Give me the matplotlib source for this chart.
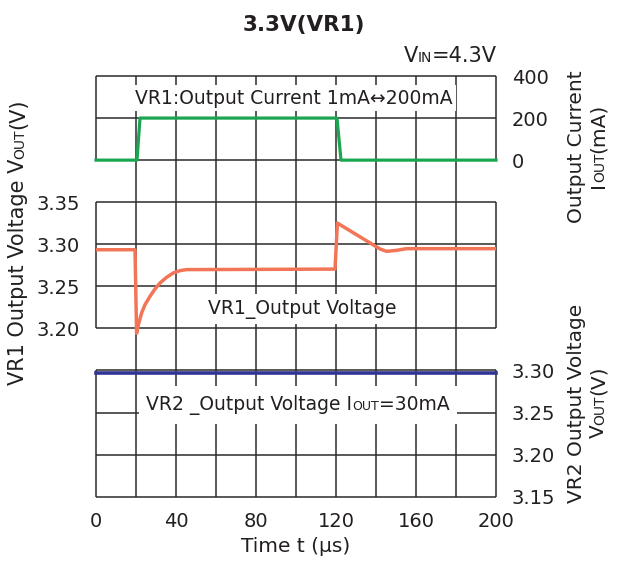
import matplotlib
matplotlib.use('Agg')
import matplotlib.pyplot as plt
from matplotlib.patches import Rectangle
from matplotlib.transforms import IdentityTransform, Bbox

# load current step (mA)
t_cur = [0, 20.5, 22, 120.5, 122.5, 200]
i_cur = [0, 0, 200, 200, 0, 0]

# VR1 output voltage (V)
t_vr1 = [0, 19.5, 20.3, 21.2, 22.8, 24.5, 27, 29.5, 32, 35.3, 38.7, 42, 45.3, 60,
         119.5, 120.7, 142, 145.3, 150.3, 155.3, 200]
v_vr1 = [3.2935, 3.2935, 3.1942, 3.2044, 3.2183, 3.2282, 3.2381, 3.2469, 3.2540, 3.2607,
         3.2660, 3.2687, 3.2699, 3.2700, 3.2705, 3.3252, 3.2944, 3.2916, 3.2928, 3.2948, 3.2948]

# VR2 output voltage (V)
t_vr2 = [0, 200]
v_vr2 = [3.297, 3.297]

x_ticks = [0, 40, 80, 120, 160, 200]
x_grid = [20, 40, 60, 80, 100, 120, 140, 160, 180]
cur_ticks = [0, 200, 400]
vr1_ticks = [3.20, 3.25, 3.30, 3.35]
vr2_ticks = [3.15, 3.20, 3.25, 3.30]

ink = '#231f20'
grid_c = '#2b2b2b'
green = '#1aa650'
red = '#f37558'
blue = '#2e3592'

fig = plt.figure(figsize=(6.25, 5.68), dpi=100)
ax = fig.add_axes([96 / 625, 71.3 / 568, 400 / 625, 420.7 / 568])
ax.set_xlim(0, 200)
ax.set_ylim(3.00, 3.50)
ax_i = ax.twinx()
ax_i.set_ylim(-1600, 400)
ax_v2 = ax.twinx()
ax_v2.set_ylim(3.15, 3.65)

for a in (ax, ax_i, ax_v2):
    for s in a.spines.values():
        s.set_visible(False)
    a.tick_params(length=0, labelsize=14, labelcolor=ink)

ax.set_xticks(x_ticks)
ax.tick_params(axis='x', pad=11)
ax.set_yticks(vr1_ticks, ['%.2f' % v for v in vr1_ticks])
ax.tick_params(axis='y', pad=11.5)
ax_i.set_yticks(cur_ticks, [str(v) for v in cur_ticks])
ax_i.tick_params(axis='y', pad=11.5)
ax_v2.set_yticks(vr2_ticks, ['%.2f' % v for v in vr2_ticks])
ax_v2.tick_params(axis='y', pad=11.5)
ax.set_xlabel('Time t (\u00b5s)', fontsize=14.5, color=ink, labelpad=4)

# grid: interior verticals full height, borders and horizontals per section
ax.vlines(x_grid, *ax.get_ylim(), colors=grid_c, lw=1.1, zorder=1)
for a, ticks in ((ax_i, cur_ticks), (ax, vr1_ticks), (ax_v2, vr2_ticks)):
    a.hlines(ticks, 0, 200, colors=grid_c, lw=1.1, clip_on=False, zorder=1)
    a.vlines([0, 200], min(ticks), max(ticks), colors=grid_c, lw=1.1, clip_on=False, zorder=1)

ax_i.plot(t_cur, i_cur, color=green, lw=2.3, zorder=4, clip_on=False)
ax.plot(t_vr1, v_vr1, color=red, lw=2.5, zorder=4)
ax_v2.plot(t_vr2, v_vr2, color=blue, lw=2.6, zorder=4, clip_on=False)

ax_i.text(99, 295, 'VR1:Output Current 1mA\u2194200mA', fontsize=13.5, color=ink,
          ha='center', va='center', zorder=5,
          bbox=dict(boxstyle='square,pad=0.17', fc='white', ec='none'))
ax.text(103, 3.223, 'VR1_Output Voltage', fontsize=13.5, color=ink,
        ha='center', va='center', zorder=5,
        bbox=dict(boxstyle='square,pad=0.25', fc='white', ec='none'))


def rich_text(x, y, parts, rotation=0, ha='center', box=None):
    renderer = fig.canvas.get_renderer()
    items = []
    for s, size in parts:
        t = fig.text(0, 0, s, fontsize=size, color=ink, rotation=rotation,
                     rotation_mode='anchor', ha='left', va='baseline',
                     zorder=5, transform=IdentityTransform())
        bb = t.get_window_extent(renderer)
        items.append((t, bb.width if rotation == 0 else bb.height))
    total = sum(L for _, L in items)
    pos = {'left': 0, 'center': -total / 2, 'right': -total}[ha]
    for t, L in items:
        t.set_position((x + pos, y) if rotation == 0 else (x, y + pos))
        pos += L
    if box is not None:
        bb = Bbox.union([t.get_window_extent(renderer) for t, _ in items])
        padx, pady = box
        fig.patches.append(Rectangle((bb.x0 - padx, bb.y0 - pady), bb.width + 2 * padx,
                                     bb.height + 2 * pady, fc='white', ec='none',
                                     zorder=2, transform=IdentityTransform(), figure=fig))


fig.text(304 / 625, 1 - 25 / 568, '3.3V(VR1)', fontsize=15.5, weight='bold',
         color=ink, ha='center', va='center')
rich_text(497, 568 - 61.7, [('V', 15), ('IN', 10), ('=4.3V', 15)], ha='right')

px, py = ax_v2.transData.transform((101, 3.2536))
rich_text(px, py, [('VR2 _Output Voltage I', 13.5), ('OUT', 9), ('=30mA', 13.5)], box=(7, 9))

rich_text(24, 568 - 242, [('VR1 Output Voltage V', 15), ('OUT', 10), ('(V)', 15)], rotation=90)
rich_text(582, 568 - 147, [('Output Current', 14.5)], rotation=90)
rich_text(604, 568 - 146, [('I', 14.5), ('OUT', 10), ('(mA)', 14.5)], rotation=90)
rich_text(582, 568 - 403, [('VR2 Output Voltage', 14.5)], rotation=90)
rich_text(604, 568 - 402, [('V', 14.5), ('OUT', 10), ('(V)', 14.5)], rotation=90)

fig.savefig('out.png', dpi=100)
